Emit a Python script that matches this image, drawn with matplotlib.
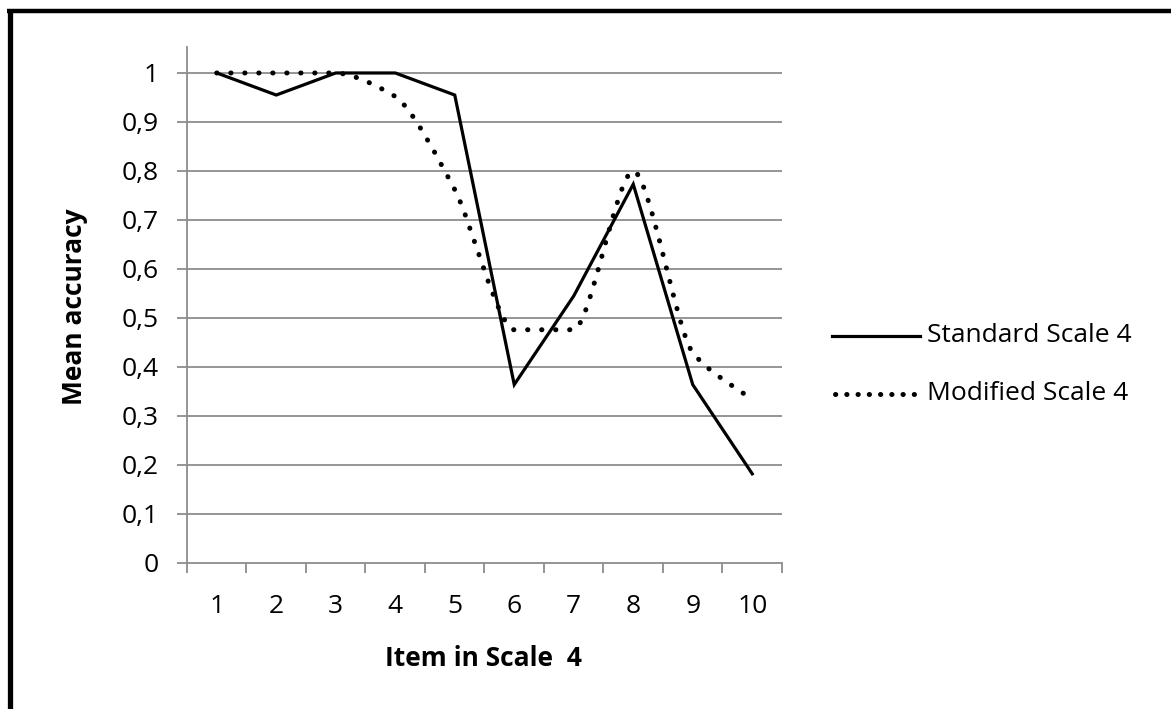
import matplotlib
matplotlib.use("Agg")
import matplotlib.pyplot as plt
import numpy as np
from matplotlib.path import Path
from matplotlib.patches import PathPatch
from matplotlib.lines import Line2D

plt.rcParams['font.family'] = ['Open Sans', 'DejaVu Sans']

items = [1, 2, 3, 4, 5, 6, 7, 8, 9, 10]
item_labels = ['1', '2', '3', '4', '5', '6', '7', '8', '9', '10']
standard = [1.0, 0.955, 1.0, 1.0, 0.955, 0.364, 0.545, 0.773, 0.364, 0.182]
modified = [1.0, 1.0, 1.0, 0.952, 0.762, 0.476, 0.476, 0.800, 0.429, 0.333]
y_ticks = [0, 0.1, 0.2, 0.3, 0.4, 0.5, 0.6, 0.7, 0.8, 0.9, 1.0]
y_tick_labels = ['0', '0,1', '0,2', '0,3', '0,4', '0,5', '0,6', '0,7', '0,8', '0,9', '1']

W, H = 1171, 709
FS = 19
fig = plt.figure(figsize=(W / 100, H / 100), dpi=100)
fig.patch.set_facecolor('white')

ax = fig.add_axes([187 / W, (H - 563) / H, (782 - 187) / W, (563 - 47) / H])
ax.set_xlim(0.5, 10.5)
ax.set_ylim(0, 1.053)

grid_c = '#8c8c8c'
for v in y_ticks[1:]:
    ax.axhline(v, color=grid_c, lw=1.3, zorder=1)

for s in ['top', 'right']:
    ax.spines[s].set_visible(False)
for s in ['left', 'bottom']:
    ax.spines[s].set_color(grid_c)
    ax.spines[s].set_linewidth(1.3)

ax.set_yticks(y_ticks)
ax.set_yticklabels(y_tick_labels, fontsize=FS)
ax.tick_params(axis='y', direction='out', length=7.2, width=1.3, color=grid_c, pad=13)

ax.set_xticks(items)
ax.set_xticklabels(item_labels, fontsize=FS)
ax.set_xticks(np.arange(0.5, 11, 1), minor=True)
ax.tick_params(axis='x', which='major', length=0, pad=22)
ax.tick_params(axis='x', which='minor', direction='out', length=7.5, width=1.3, color=grid_c)

# Standard: straight segments
ax.plot(items, standard, color='black', lw=2.3, solid_joinstyle='miter', zorder=3)

# Modified: smoothed dotted curve (cubic Bezier through the data points,
# monotone tangents, drawn by matplotlib's Path)
xs = np.array(items, dtype=float)
ys = np.array(modified, dtype=float)
n = len(xs)
h = np.diff(xs)
d = np.diff(ys) / h
m = np.zeros(n)
for i in range(1, n - 1):
    if d[i - 1] * d[i] > 0:
        m[i] = 2.0 / (1.0 / d[i - 1] + 1.0 / d[i])
m[0] = d[0]
m[-1] = d[-1]
s = 0.8
verts = [(xs[0], ys[0])]
codes = [Path.MOVETO]
for i in range(n - 1):
    c1 = (xs[i] + h[i] / 3 * s, ys[i] + m[i] * h[i] / 3 * s)
    c2 = (xs[i + 1] - h[i] / 3 * s, ys[i + 1] - m[i + 1] * h[i] / 3 * s)
    verts += [c1, c2, (xs[i + 1], ys[i + 1])]
    codes += [Path.CURVE4] * 3
patch = PathPatch(Path(verts, codes), fill=False, edgecolor='black', lw=3.6,
                  linestyle=(0, (0.05, 2.75)), capstyle='round', zorder=3)
ax.add_patch(patch)

# Axis titles
fig.text(75 / W, 1 - 307 / H, 'Mean accuracy', rotation=90, fontsize=FS,
         fontweight='bold', ha='center', va='center')
fig.text(483 / W, 1 - 658 / H, 'Item in Scale  4', fontsize=FS,
         fontweight='bold', ha='center', va='center')

# Legend (manual, placed as in reference)
fig.add_artist(Line2D([832 / W, 920 / W], [1 - 336 / H, 1 - 336 / H],
                      color='black', lw=2.3, transform=fig.transFigure))
fig.add_artist(Line2D([835 / W, 917 / W], [1 - 394 / H, 1 - 394 / H],
                      color='black', lw=3.6, linestyle=(0, (0.05, 2.2)),
                      dash_capstyle='round', transform=fig.transFigure))
fig.text(927 / W, 1 - 336 / H, 'Standard Scale 4', fontsize=FS, ha='left', va='center')
fig.text(927 / W, 1 - 394 / H, 'Modified Scale 4', fontsize=FS, ha='left', va='center')

# Outer frame (top and left edges visible)
fig.add_artist(Line2D([7 / W, 1.0], [1 - 11 / H, 1 - 11 / H], color='black', lw=3.2,
                      transform=fig.transFigure, solid_capstyle='butt'))
fig.add_artist(Line2D([9.5 / W, 9.5 / W], [1 - 9 / H, 0.0], color='black', lw=3.8,
                      transform=fig.transFigure, solid_capstyle='butt'))

fig.savefig('out.png', dpi=100, facecolor='white')
